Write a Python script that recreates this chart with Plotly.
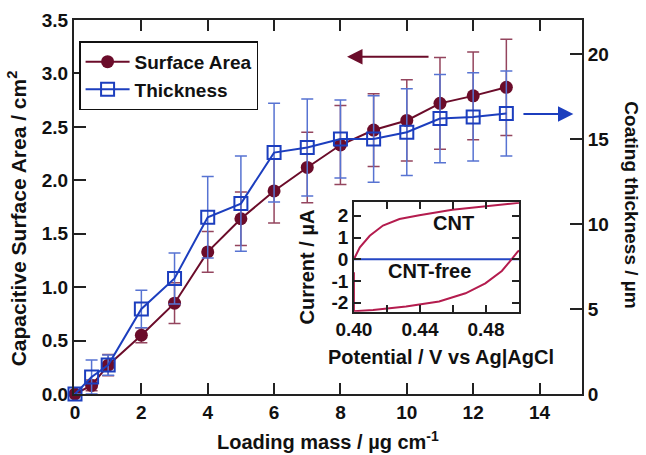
import plotly.graph_objects as go

# ---- main data ----
loading = [0, 0.5, 1, 2, 3, 4, 5, 6, 7, 8, 9, 10, 11, 12, 13]
area = [0.0, 0.08, 0.27, 0.55, 0.85, 1.33, 1.64, 1.90, 2.12, 2.33, 2.47, 2.56, 2.72, 2.79, 2.87]
area_err = [0.0, 0.05, 0.10, 0.07, 0.19, 0.19, 0.25, 0.30, 0.33, 0.37, 0.34, 0.38, 0.43, 0.41, 0.45]
thick = [0.0, 1.0, 1.7, 5.0, 6.8, 10.4, 11.2, 14.2, 14.5, 15.0, 15.0, 15.4, 16.2, 16.3, 16.5]
thick_err = [0.0, 1.0, 0.6, 1.1, 1.5, 2.4, 2.8, 2.9, 2.85, 2.3, 2.55, 2.55, 2.6, 2.6, 2.5]

# ---- inset CV data ----
pot_up = [0.400, 0.4036, 0.4096, 0.4176, 0.4276, 0.4396, 0.4596, 0.4796, 0.4986, 0.5000]
cur_up = [0.00, 0.55, 1.08, 1.55, 1.85, 2.03, 2.28, 2.43, 2.59, 2.60]
pot_dn = [0.5000, 0.4992, 0.4956, 0.4896, 0.4796, 0.4676, 0.4516, 0.4316, 0.4116, 0.4016, 0.4000, 0.4000]
cur_dn = [0.40, 0.35, 0.00, -0.54, -1.11, -1.57, -1.95, -2.18, -2.34, -2.38, -2.40, -0.60]
pot_free = [0.40, 0.50]
cur_free = [0.0, 0.0]

RED = "#6B0C2A"
BLUE = "#1C3EBE"
RED_ERR = "#94455E"
BLUE_ERR = "#5773D2"
INSET_RED = "#B41C4E"
INSET_BLUE = "#2446C4"
AX = "#222222"
FONT = "Liberation Sans, Arial, sans-serif"

fig = go.Figure()

fig.add_trace(go.Scatter(
    x=loading, y=area, name="Surface Area", mode="lines+markers",
    line=dict(color=RED, width=2),
    marker=dict(symbol="circle", size=13, color=RED),
    error_y=dict(type="data", array=area_err, color=RED_ERR, thickness=1.5, width=6),
    cliponaxis=False, xaxis="x", yaxis="y"))

fig.add_trace(go.Scatter(
    x=loading, y=thick, name="Thickness", mode="lines+markers",
    line=dict(color=BLUE, width=2),
    marker=dict(symbol="square-open", size=13, color=BLUE, line=dict(width=2)),
    error_y=dict(type="data", array=thick_err, color=BLUE_ERR, thickness=1.5, width=6),
    cliponaxis=False, xaxis="x", yaxis="y2"))

# inset
fig.add_trace(go.Scatter(x=pot_free, y=cur_free, mode="lines", showlegend=False,
                         line=dict(color=INSET_BLUE, width=2), xaxis="x3", yaxis="y3"))
fig.add_trace(go.Scatter(x=pot_up, y=cur_up, mode="lines", showlegend=False,
                         line=dict(color=INSET_RED, width=2), xaxis="x3", yaxis="y3", cliponaxis=False))
fig.add_trace(go.Scatter(x=pot_dn, y=cur_dn, mode="lines", showlegend=False,
                         line=dict(color=INSET_RED, width=2), xaxis="x3", yaxis="y3", cliponaxis=False))

tickfont = dict(family=FONT, size=19, color="#111111", weight="bold")
insettick = dict(family=FONT, size=19, color="#111111", weight="bold")
insetfont = dict(family=FONT, size=20, color="#111111", weight="bold")
titlefont = dict(family=FONT, size=20, color="#111111", weight="bold")
lefttitle = dict(family=FONT, size=21, color="#111111", weight="bold")
righttitle = dict(family=FONT, size=19, color="#111111", weight="bold")

inset_x = [0.40, 0.42, 0.44, 0.46, 0.48, 0.50]
inset_xt = ["0.40", "", "0.44", "", "0.48", ""]
inset_y = [-2, -1, 0, 1, 2]
inset_yt = ["-2", "-1", "0", "1", "2"]

fig.update_layout(
    width=646, height=455,
    margin=dict(l=74, r=64, t=20, b=61, autoexpand=False),
    paper_bgcolor="white", plot_bgcolor="white",
    showlegend=True,
    legend=dict(x=0.01, y=0.943, xanchor="left", yanchor="top",
                bgcolor="white", bordercolor="#111111", borderwidth=1.5,
                font=dict(family=FONT, size=19, color="#111111", weight="bold"),
                itemwidth=44, tracegroupgap=0),
    xaxis=dict(domain=[0, 1], range=[-0.03, 15.28], tickvals=[0, 2, 4, 6, 8, 10, 12, 14],
               showgrid=False, zeroline=False, showline=True, linecolor=AX, linewidth=2,
               ticks="inside", ticklen=11, tickwidth=2, tickcolor=AX, mirror="ticks",
               tickfont=tickfont, automargin=False),
    yaxis=dict(domain=[0, 1], range=[0, 3.5], tickvals=[0, 0.5, 1, 1.5, 2, 2.5, 3, 3.5],
               tickformat=".1f",
               showgrid=False, zeroline=False, showline=True, linecolor=AX, linewidth=2,
               ticks="inside", ticklen=12, tickwidth=2, tickcolor=AX, tickfont=tickfont,
               automargin=False),
    yaxis2=dict(overlaying="y", side="right", range=[0, 22], tickvals=[0, 5, 10, 15, 20],
                showgrid=False, zeroline=False, showline=True, linecolor=AX, linewidth=2,
                ticks="inside", ticklen=12, tickwidth=2, tickcolor=AX, tickfont=tickfont,
                automargin=False),
    xaxis3=dict(domain=[0.551, 0.876], anchor="y3", range=[0.40, 0.50],
                tickvals=inset_x, ticktext=inset_xt,
                showgrid=False, zeroline=False, showline=True, linecolor=AX, linewidth=1.5,
                ticks="inside", ticklen=7, tickwidth=1.5, tickcolor=AX, mirror="ticks",
                tickfont=insettick, automargin=False),
    yaxis3=dict(domain=[0.220, 0.513], anchor="x3", range=[-2.42, 2.63],
                tickvals=inset_y, ticktext=inset_yt,
                showgrid=False, zeroline=False, showline=True, linecolor=AX, linewidth=1.5,
                ticks="inside", ticklen=7, tickwidth=1.5, tickcolor=AX, mirror="ticks",
                tickfont=insettick, automargin=False),
)

annotations = [
    # axis titles
    dict(text="Loading mass / µg cm<sup>-1</sup>", xref="paper", yref="paper",
         x=0.5, y=-0.123, xanchor="center", yanchor="middle", showarrow=False, font=titlefont),
    dict(text="Capacitive Surface Area / cm<sup>2</sup>", xref="paper", yref="paper",
         x=-0.112, y=0.47, xanchor="center", yanchor="middle", textangle=-90,
         showarrow=False, font=lefttitle),
    dict(text="Coating thickness / µm", xref="paper", yref="paper",
         x=1.098, y=0.505, xanchor="center", yanchor="middle", textangle=90,
         showarrow=False, font=righttitle),
    # inset titles
    dict(text="Potential / V vs Ag|AgCl", xref="paper", yref="paper",
         x=0.7224, y=0.0997, xanchor="center", yanchor="middle", showarrow=False, font=insetfont),
    dict(text="Current / µA", xref="paper", yref="paper",
         x=0.458, y=0.34, xanchor="center", yanchor="middle", textangle=-90,
         showarrow=False, font=insetfont),
    # inset labels
    dict(text="CNT", xref="x3", yref="y3", x=0.4606, y=1.67, showarrow=False, font=insetfont),
    dict(text="CNT-free", xref="x3", yref="y3", x=0.4456, y=-0.54, showarrow=False, font=insetfont),
    # arrows
    dict(x=8.2, y=3.156, xref="x", yref="y", ax=10.7, ay=3.156, axref="x", ayref="y",
         showarrow=True, arrowhead=2, arrowsize=1.4, arrowwidth=2.2, arrowcolor=RED, text=""),
    dict(x=15.02, y=16.47, xref="x", yref="y2", ax=13.47, ay=16.47, axref="x", ayref="y2",
         showarrow=True, arrowhead=2, arrowsize=1.4, arrowwidth=2.2, arrowcolor=BLUE, text=""),
]
fig.update_layout(annotations=annotations)

fig.write_html("out.html", config={"displayModeBar": False},
               post_script="document.body.style.margin='0';document.body.style.overflow='hidden';")
